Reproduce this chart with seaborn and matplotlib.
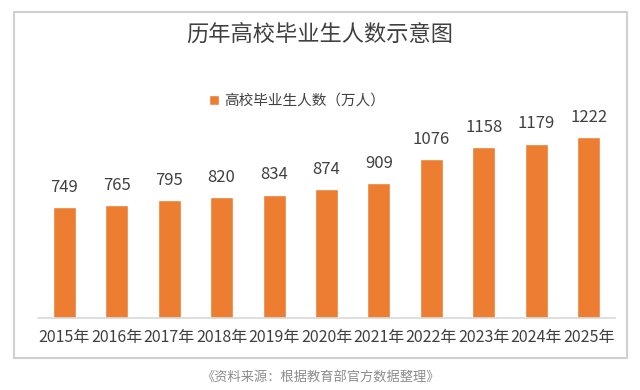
import matplotlib
matplotlib.use("Agg")
import matplotlib.pyplot as plt
import seaborn as sns
import pandas as pd
from matplotlib.patches import Rectangle

years = ["2015年", "2016年", "2017年", "2018年", "2019年", "2020年",
         "2021年", "2022年", "2023年", "2024年", "2025年"]
graduates = [749, 765, 795, 820, 834, 874, 909, 1076, 1158, 1179, 1222]
series_name = "高校毕业生人数（万人）"
title = "历年高校毕业生人数示意图"
source = "《资料来源：根据教育部官方数据整理》"

sns.set_theme(style="white")
plt.rcParams['font.family'] = ['Noto Sans CJK SC', 'DejaVu Sans']

df = pd.DataFrame({"year": years, "value": graduates})

W, H = 640, 390
fig = plt.figure(figsize=(6.4, 3.9), dpi=100)
ax = fig.add_axes([38 / W, (H - 318) / H, (615 - 38) / W, 222 / H])

sns.barplot(data=df, x="year", y="value", color="#ED7D31", saturation=1,
            width=0.44, label=series_name, ax=ax)

ax.set_ylim(0, 1500)
ax.set_xlim(-0.5, 10.5)
ax.set_xlabel("")
ax.set_ylabel("")
ax.set_yticks([])
for s in ["left", "right", "top"]:
    ax.spines[s].set_visible(False)
ax.spines["bottom"].set_color("#d9d9d9")
ax.spines["bottom"].set_linewidth(1.2)
ax.tick_params(axis="x", length=0, pad=8, labelsize=11.5, colors="#404040")

ax.bar_label(ax.containers[0], padding=8, fontsize=12, color="#404040")

ax.legend(loc="center", bbox_to_anchor=(297 / W, (H - 101) / H),
          bbox_transform=fig.transFigure, frameon=False, fontsize=10.5,
          handlelength=0.7, handleheight=0.7, handletextpad=0.4,
          labelcolor="#404040")

fig.text(320 / W, (H - 34) / H, title, ha="center", va="center",
         fontsize=16, color="#404040")
fig.text(320 / W, (H - 378) / H, source, ha="center", va="center",
         fontsize=9.5, color="#8c8c8c")

fig.patches.append(Rectangle((14 / W, (H - 358) / H), (627 - 14) / W, (358 - 12) / H,
                             transform=fig.transFigure, fill=False,
                             edgecolor="#d0d0d0", linewidth=1.5))

fig.savefig("out.png", dpi=100)
